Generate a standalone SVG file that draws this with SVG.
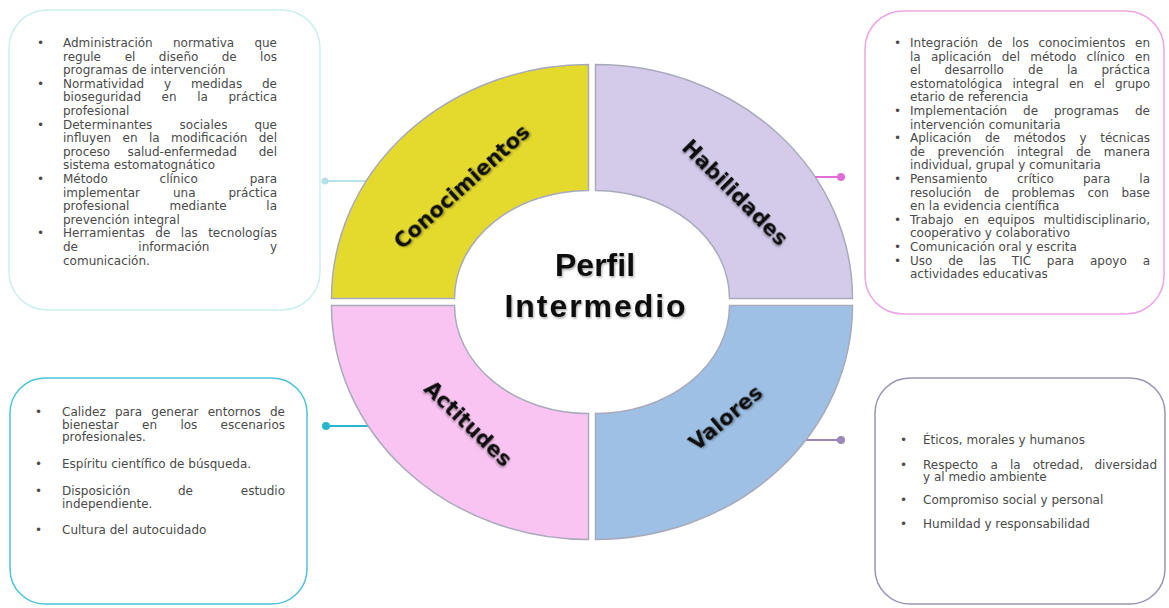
<svg xmlns="http://www.w3.org/2000/svg" width="1169" height="608" viewBox="0 0 1169 608">
<style>
.t{font-family:"DejaVu Sans",sans-serif;font-size:12px;fill:#4a4a4a}
.box{fill:#fff;stroke-width:1.5}
.q{stroke:#a8aabb;stroke-width:1.5}
.lbl{font-family:"DejaVu Sans",sans-serif;font-weight:bold;font-size:21px;fill:#111;text-anchor:middle}
.ctr{font-family:"Liberation Sans",Arial,sans-serif;font-weight:bold;font-size:32px;fill:#111;text-anchor:middle}
.ln{stroke-width:2;fill:none}
</style>
<defs>
<filter id="sh" x="-10%" y="-30%" width="120%" height="160%">
<feDropShadow dx="1" dy="1.5" stdDeviation="1" flood-color="#000" flood-opacity="0.35"/>
</filter>
</defs>
<rect width="1169" height="608" fill="#fff"/>

<g id="connectors">
<line class="ln" x1="368" y1="181" x2="325" y2="181" stroke="#b5e2e6"/>
<circle cx="325" cy="181" r="3.5" fill="#b5e2e6"/>
<line class="ln" x1="810" y1="177" x2="841" y2="177" stroke="#e06ed6"/>
<circle cx="841" cy="177" r="4" fill="#e06ed6"/>
<line class="ln" x1="373" y1="426" x2="326" y2="426" stroke="#2bb5cc"/>
<circle cx="326" cy="426" r="4" fill="#2bb5cc"/>
<line class="ln" x1="806" y1="440" x2="841" y2="440" stroke="#9a86b8"/>
<circle cx="841" cy="440" r="4" fill="#9a86b8"/>
</g>

<g id="quad-conocimientos">
<path class="q" fill="#e4da2e" d="M331.5 298.5 A257 234 0 0 1 588.5 64.5 L588.5 190.5 A134 108 0 0 0 454.5 298.5 Z"/>
<text class="lbl" filter="url(#sh)" transform="translate(462 187) rotate(-42)" y="7">Conocimientos</text>
</g>
<g id="quad-habilidades">
<path class="q" fill="#d4cbeb" d="M595.5 64.5 A257 234 0 0 1 852.5 298.5 L729.5 298.5 A134 108 0 0 0 595.5 190.5 Z"/>
<text class="lbl" filter="url(#sh)" transform="translate(735 193) rotate(45)" y="7">Habilidades</text>
</g>
<g id="quad-actitudes">
<path class="q" fill="#f9c4f1" d="M331.5 305.5 L454.5 305.5 A134 108 0 0 0 588.5 413.5 L588.5 539.5 A257 234 0 0 1 331.5 305.5 Z"/>
<text class="lbl" filter="url(#sh)" transform="translate(468 424) rotate(44)" y="7">Actitudes</text>
</g>
<g id="quad-valores">
<path class="q" fill="#9ec0e4" d="M852.5 305.5 A257 234 0 0 1 595.5 539.5 L595.5 413.5 A134 108 0 0 0 729.5 305.5 Z"/>
<text class="lbl" filter="url(#sh)" transform="translate(726 418) rotate(-40)" y="7">Valores</text>
</g>
<g id="center">
<text class="ctr" filter="url(#sh)" x="595" y="276">Perfil</text>
<text class="ctr" filter="url(#sh)" x="595" y="317" textLength="181" lengthAdjust="spacing">Intermedio</text>
</g>

<g id="box-conocimientos">
<rect class="box" x="9" y="10" width="311" height="300" rx="38" stroke="#cdeef0"/>
<text class="t" x="37" y="47">•</text><text class="t" x="37" y="87.8">•</text><text class="t" x="37" y="128.6">•</text><text class="t" x="37" y="183">•</text><text class="t" x="37" y="237.4">•</text>
<text class="t" y="47"><tspan x="63">Administración</tspan><tspan x="173">normativa</tspan><tspan x="277" text-anchor="end">que</tspan></text>
<text class="t" y="60.6"><tspan x="63">regule</tspan><tspan x="124.7">el</tspan><tspan x="158.8">diseño</tspan><tspan x="221.7">de</tspan><tspan x="277" text-anchor="end">los</tspan></text>
<text class="t" x="63" y="74.2">programas de intervención</text>
<text class="t" y="87.8"><tspan x="63">Normatividad</tspan><tspan x="164.1">y</tspan><tspan x="190.9">medidas</tspan><tspan x="277" text-anchor="end">de</tspan></text>
<text class="t" y="101.4"><tspan x="63">bioseguridad</tspan><tspan x="161.6">en</tspan><tspan x="197.2">la</tspan><tspan x="277" text-anchor="end">práctica</tspan></text>
<text class="t" x="63" y="115">profesional</text>
<text class="t" y="128.6"><tspan x="63">Determinantes</tspan><tspan x="179.6">sociales</tspan><tspan x="277" text-anchor="end">que</tspan></text>
<text class="t" y="142.2"><tspan x="63">influyen</tspan><tspan x="122.6">en</tspan><tspan x="148.9">la</tspan><tspan x="171">modificación</tspan><tspan x="277" text-anchor="end">del</tspan></text>
<text class="t" y="155.8"><tspan x="63">proceso</tspan><tspan x="127.4">salud-enfermedad</tspan><tspan x="277" text-anchor="end">del</tspan></text>
<text class="t" x="63" y="169.4">sistema estomatognático</text>
<text class="t" y="183"><tspan x="63">Método</tspan><tspan x="159.6">clínico</tspan><tspan x="277" text-anchor="end">para</tspan></text>
<text class="t" y="196.6"><tspan x="63">implementar</tspan><tspan x="173">una</tspan><tspan x="277" text-anchor="end">práctica</tspan></text>
<text class="t" y="210.2"><tspan x="63">profesional</tspan><tspan x="169.5">mediante</tspan><tspan x="277" text-anchor="end">la</tspan></text>
<text class="t" x="63" y="223.8">prevención integral</text>
<text class="t" y="237.4"><tspan x="63">Herramientas</tspan><tspan x="155.3">de</tspan><tspan x="180.8">las</tspan><tspan x="277" text-anchor="end">tecnologías</tspan></text>
<text class="t" y="251"><tspan x="63">de</tspan><tspan x="138.3">información</tspan><tspan x="277" text-anchor="end">y</tspan></text>
<text class="t" x="63" y="264.6">comunicación.</text>
</g>

<g id="box-habilidades">
<rect class="box" x="865" y="11" width="299" height="303" rx="38" stroke="#eaa6e6"/>
<text class="t" x="894" y="47">•</text><text class="t" x="894" y="115">•</text><text class="t" x="894" y="142.2">•</text><text class="t" x="894" y="183">•</text><text class="t" x="894" y="223.8">•</text><text class="t" x="894" y="251">•</text><text class="t" x="894" y="264.6">•</text>
<text class="t" y="47"><tspan x="910">Integración</tspan><tspan x="987.5">de</tspan><tspan x="1012">los</tspan><tspan x="1038.4">conocimientos</tspan><tspan x="1150" text-anchor="end">en</tspan></text>
<text class="t" y="60.6"><tspan x="910">la</tspan><tspan x="930.9">aplicación</tspan><tspan x="1001.7">del</tspan><tspan x="1030.2">método</tspan><tspan x="1086.6">clínico</tspan><tspan x="1150" text-anchor="end">en</tspan></text>
<text class="t" y="74.2"><tspan x="910">el</tspan><tspan x="944.5">desarrollo</tspan><tspan x="1028.1">de</tspan><tspan x="1066.9">la</tspan><tspan x="1150" text-anchor="end">práctica</tspan></text>
<text class="t" y="87.8"><tspan x="910">estomatológica</tspan><tspan x="1012.5">integral</tspan><tspan x="1068.9">en</tspan><tspan x="1094">el</tspan><tspan x="1150" text-anchor="end">grupo</tspan></text>
<text class="t" x="910" y="101.4">etario de referencia</text>
<text class="t" y="115"><tspan x="910">Implementación</tspan><tspan x="1023.1">de</tspan><tspan x="1054">programas</tspan><tspan x="1150" text-anchor="end">de</tspan></text>
<text class="t" x="910" y="128.6">intervención comunitaria</text>
<text class="t" y="142.2"><tspan x="910">Aplicación</tspan><tspan x="984.9">de</tspan><tspan x="1013.5">métodos</tspan><tspan x="1079.4">y</tspan><tspan x="1150" text-anchor="end">técnicas</tspan></text>
<text class="t" y="155.8"><tspan x="910">de</tspan><tspan x="937.6">prevención</tspan><tspan x="1017.1">integral</tspan><tspan x="1076">de</tspan><tspan x="1150" text-anchor="end">manera</tspan></text>
<text class="t" x="910" y="169.4">individual, grupal y comunitaria</text>
<text class="t" y="183"><tspan x="910">Pensamiento</tspan><tspan x="1017">crítico</tspan><tspan x="1083">para</tspan><tspan x="1150" text-anchor="end">la</tspan></text>
<text class="t" y="196.6"><tspan x="910">resolución</tspan><tspan x="984.1">de</tspan><tspan x="1011.5">problemas</tspan><tspan x="1087.4">con</tspan><tspan x="1150" text-anchor="end">base</tspan></text>
<text class="t" x="910" y="210.2">en la evidencia científica</text>
<text class="t" y="223.8"><tspan x="910">Trabajo</tspan><tspan x="964">en</tspan><tspan x="987.6">equipos</tspan><tspan x="1150" text-anchor="end">multidisciplinario,</tspan></text>
<text class="t" x="910" y="237.4">cooperativo y colaborativo</text>
<text class="t" x="910" y="251">Comunicación oral y escrita</text>
<text class="t" y="264.6"><tspan x="910">Uso</tspan><tspan x="948.2">de</tspan><tspan x="979.1">las</tspan><tspan x="1011.8">TIC</tspan><tspan x="1046.8">para</tspan><tspan x="1090">apoyo</tspan><tspan x="1150" text-anchor="end">a</tspan></text>
<text class="t" x="910" y="278.2">actividades educativas</text>
</g>

<g id="box-actitudes">
<rect class="box" x="10" y="378" width="297" height="226" rx="35" stroke="#4cc3d8"/>
<text class="t" x="35" y="416">•</text><text class="t" x="35" y="468">•</text><text class="t" x="35" y="495">•</text><text class="t" x="35" y="534">•</text>
<text class="t" y="416"><tspan x="62">Calidez</tspan><tspan x="114.9">para</tspan><tspan x="151.3">generar</tspan><tspan x="207.7">entornos</tspan><tspan x="285" text-anchor="end">de</tspan></text>
<text class="t" y="428.5"><tspan x="62">bienestar</tspan><tspan x="142">en</tspan><tspan x="180.4">los</tspan><tspan x="285" text-anchor="end">escenarios</tspan></text>
<text class="t" x="62" y="441">profesionales.</text>
<text class="t" x="62" y="468">Espíritu científico de búsqueda.</text>
<text class="t" y="495"><tspan x="62">Disposición</tspan><tspan x="178">de</tspan><tspan x="285" text-anchor="end">estudio</tspan></text>
<text class="t" x="62" y="507.5">independiente.</text>
<text class="t" x="62" y="534">Cultura del autocuidado</text>
</g>

<g id="box-valores">
<rect class="box" x="875" y="378" width="290" height="226" rx="35" stroke="#9d93b5"/>
<text class="t" x="900" y="444">•</text><text class="t" x="900" y="469">•</text><text class="t" x="900" y="504">•</text><text class="t" x="900" y="528">•</text>
<text class="t" x="923" y="444">Éticos, morales y humanos</text>
<text class="t" y="469"><tspan x="923">Respecto</tspan><tspan x="990.6">a</tspan><tspan x="1010">la</tspan><tspan x="1032.7">otredad,</tspan><tspan x="1157" text-anchor="end">diversidad</tspan></text>
<text class="t" x="923" y="481">y al medio ambiente</text>
<text class="t" x="923" y="504">Compromiso social y personal</text>
<text class="t" x="923" y="528">Humildad y responsabilidad</text>
</g>
</svg>
